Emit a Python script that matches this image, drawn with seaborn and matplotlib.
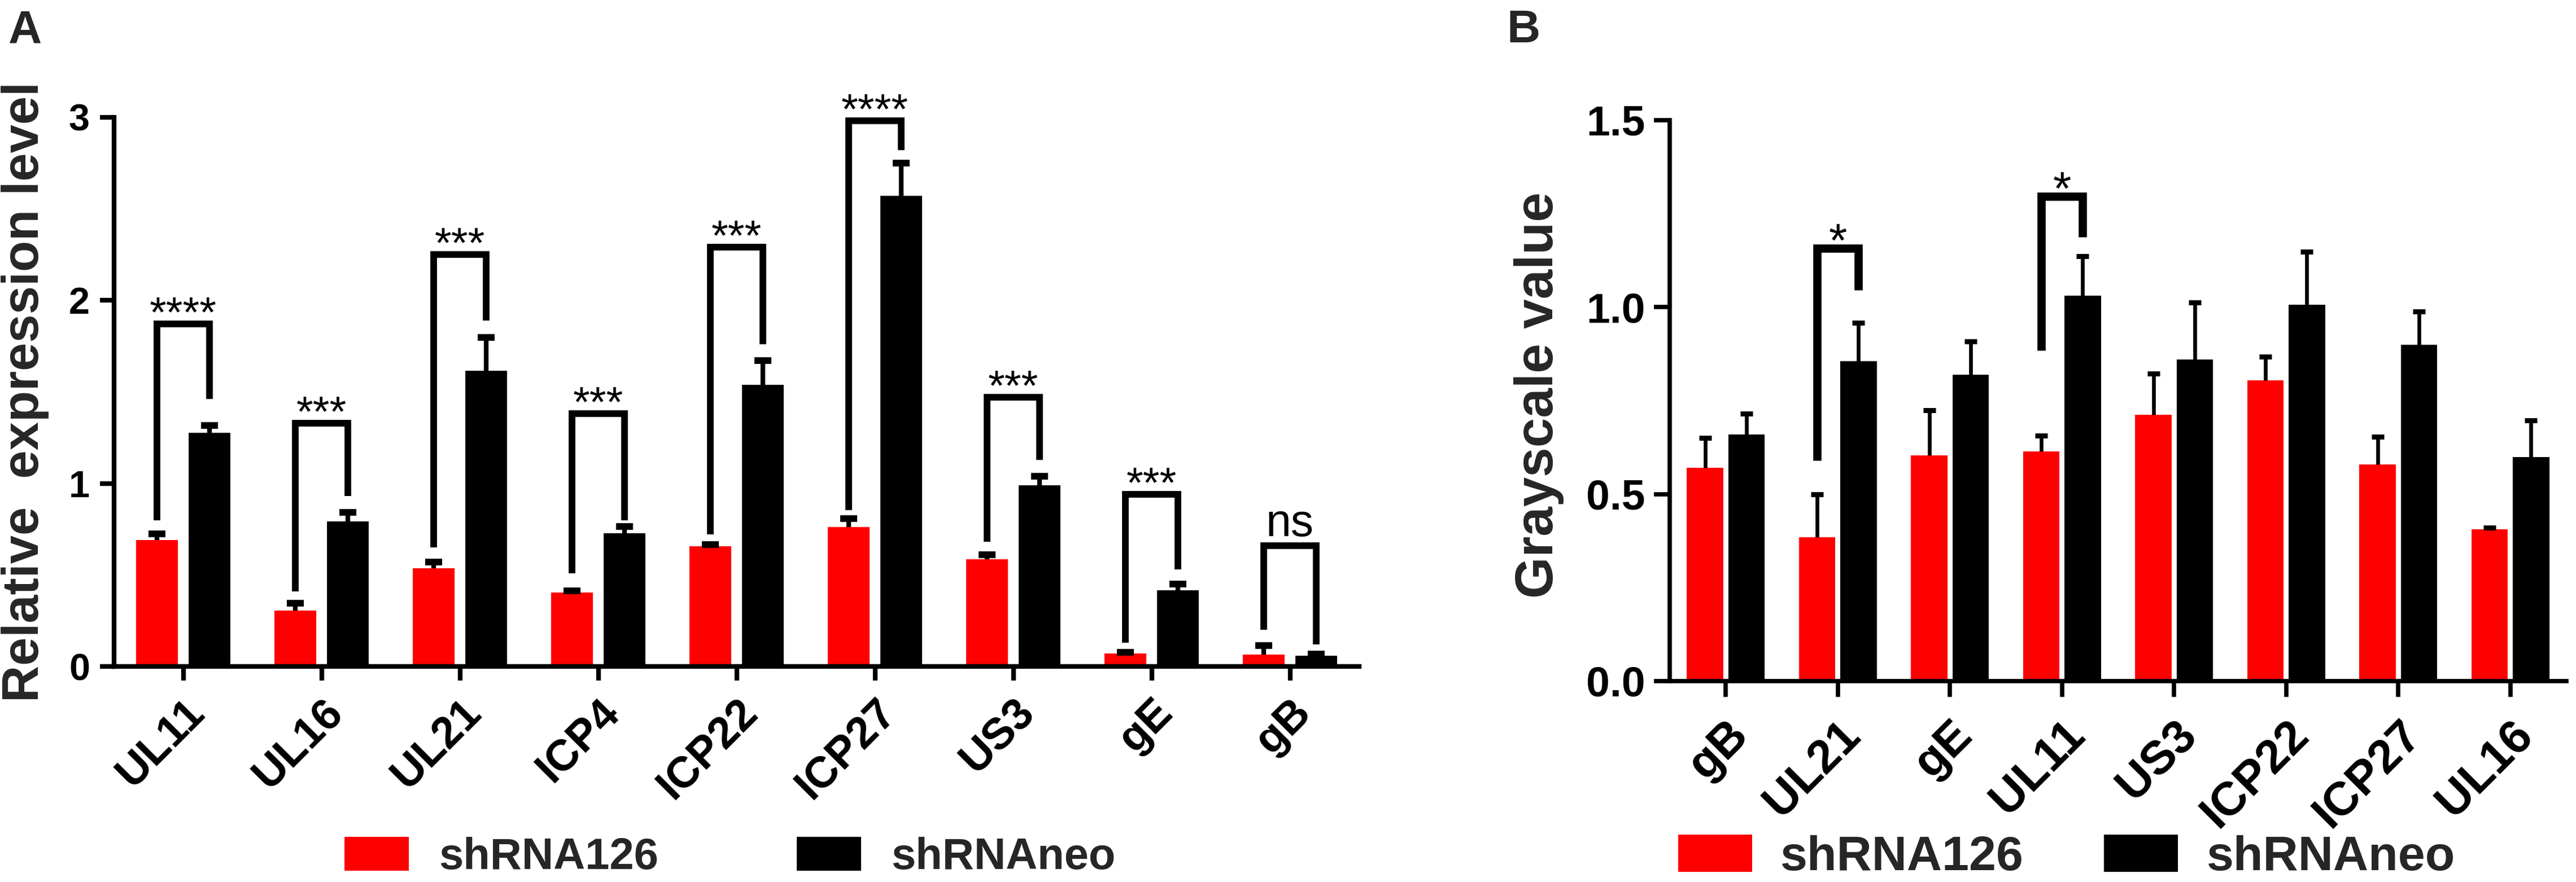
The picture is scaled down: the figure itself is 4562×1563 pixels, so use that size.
import numpy as np
import pandas as pd
import matplotlib
matplotlib.use("Agg")
import matplotlib.pyplot as plt
import seaborn as sns
from matplotlib.patches import Patch

# ---------------- data ----------------
groups = ["shRNA126", "shRNAneo"]
colors = ["#FF0000", "#000000"]

genes_a = ["UL11", "UL16", "UL21", "ICP4", "ICP22", "ICP27", "US3", "gE", "gB"]
red_a = [0.69, 0.306, 0.535, 0.405, 0.657, 0.762, 0.586, 0.07, 0.066]
red_err_a = [0.035, 0.04, 0.034, 0.008, 0.008, 0.045, 0.025, 0.006, 0.048]
black_a = [1.278, 0.791, 1.616, 0.727, 1.54, 2.57, 0.99, 0.417, 0.06]
black_err_a = [0.038, 0.05, 0.18, 0.037, 0.13, 0.18, 0.05, 0.033, 0.007]
sig_a = ["****", "***", "***", "***", "***", "****", "***", "***", "ns"]
brk_top_a = [1.87, 1.33, 2.25, 1.38, 2.29, 2.98, 1.47, 0.94, 0.66]
brk_left_a = [0.80, 0.41, 0.65, 0.51, 0.72, 0.855, 0.68, 0.13, 0.20]
brk_right_a = [1.46, 0.93, 1.89, 0.80, 1.76, 2.82, 1.13, 0.53, 0.12]
yticks_a = [0, 1, 2, 3]

genes_b = ["gB", "UL21", "gE", "UL11", "US3", "ICP22", "ICP27", "UL16"]
red_b = [0.57, 0.385, 0.603, 0.614, 0.712, 0.804, 0.58, 0.406]
red_err_b = [0.08, 0.115, 0.122, 0.042, 0.111, 0.063, 0.073, 0.004]
black_b = [0.66, 0.855, 0.819, 1.03, 0.86, 1.006, 0.90, 0.599]
black_err_b = [0.056, 0.103, 0.09, 0.106, 0.153, 0.142, 0.088, 0.098]
sig_b_genes = ["UL21", "UL11"]
sig_b = ["*", "*"]
brk_top_b = [1.158, 1.297]
brk_left_b = [0.59, 0.885]
brk_right_b = [1.046, 1.187]
yticks_b = [0.0, 0.5, 1.0, 1.5]

# ---------------- style ----------------
sns.set_theme(style="ticks")
plt.rcParams["font.family"] = ["Liberation Sans", "DejaVu Sans"]
plt.rcParams["font.weight"] = "bold"
plt.rcParams["axes.labelweight"] = "bold"
plt.rcParams["axes.edgecolor"] = "black"
plt.rcParams["xtick.color"] = "black"
plt.rcParams["ytick.color"] = "black"

W, H, DPI = 4562, 1563, 100
fig = plt.figure(figsize=(W / DPI, H / DPI), dpi=DPI)
fig.patch.set_facecolor("white")


def px_axes(l, t, r, b):
    return fig.add_axes([l / W, 1 - b / H, (r - l) / W, (b - t) / H])


axA = px_axes(202, 208, 2407, 1181)
axB = px_axes(2957, 213, 4545, 1207)


def make_df(genes, red, black):
    return pd.DataFrame({
        "gene": genes + genes,
        "group": [groups[0]] * len(genes) + [groups[1]] * len(genes),
        "value": red + black,
    })


def draw_panel(ax, genes, red, black, red_err, black_err, width, gap,
               err_lw, cap_ms, cap_mew, spine_lw, tick_len, ytick_fs, ytick_pad,
               xtick_fs, xtick_pad, yticks, ylim, ylabel, ylabel_fs, ylabel_xy):
    df = make_df(genes, red, black)
    sns.barplot(data=df, x="gene", y="value", hue="group", order=genes,
                hue_order=groups, palette=colors, saturation=1, width=width,
                gap=gap, errorbar=None, legend=False, ax=ax,
                linewidth=0, edgecolor="none")
    bars = list(ax.containers)[:2]
    centers = []
    for cont, errs in zip(bars, [red_err, black_err]):
        xs = np.array([p.get_x() + p.get_width() / 2 for p in cont])
        ys = np.array([p.get_height() for p in cont])
        tops = ys + np.array(errs)
        ax.vlines(xs, ys, tops, colors="black", linewidth=err_lw, zorder=3)
        ax.plot(xs, tops, ls="none", marker="_", markersize=cap_ms,
                markeredgewidth=cap_mew, color="black", zorder=3, clip_on=False)
        centers.append(xs)
    ax.set_ylim(*ylim)
    ax.set_yticks(yticks)
    if isinstance(yticks[1], float):
        ax.set_yticklabels([f"{v:.1f}" for v in yticks])
    ax.set_xlim(-0.5, len(genes) - 0.5)
    sns.despine(ax=ax)
    for s in ["left", "bottom"]:
        ax.spines[s].set_linewidth(spine_lw)
        ax.spines[s].set_color("black")
    ax.tick_params(axis="both", width=spine_lw, length=tick_len, direction="out")
    ax.tick_params(axis="y", labelsize=ytick_fs, pad=ytick_pad)
    ax.tick_params(axis="x", labelsize=xtick_fs, pad=xtick_pad)
    for lab in ax.get_xticklabels():
        lab.set_rotation(45)
        lab.set_ha("right")
        lab.set_va("top")
        lab.set_rotation_mode("anchor")
        lab.set_fontweight("bold")
    for lab in ax.get_yticklabels():
        lab.set_fontweight("bold")
    ax.set_xlabel("")
    ax.set_ylabel(ylabel, fontsize=ylabel_fs, fontweight="bold")
    ax.yaxis.set_label_coords(*ylabel_xy)
    ax.set_facecolor("white")
    return centers


def draw_bracket(ax, xl, xr, top, yl, yr, lw, label, fs, off):
    ax.plot([xl, xl, xr, xr], [yl, top, top, yr], color="black", lw=lw,
            solid_joinstyle="miter", solid_capstyle="butt", clip_on=False, zorder=4)
    ax.annotate(label, xy=((xl + xr) / 2, top), xytext=(0, off),
                textcoords="offset points", ha="center", va="baseline",
                fontsize=fs, fontweight="normal", color="black",
                annotation_clip=False)


# ---------------- panel A ----------------
cA = draw_panel(axA, genes_a, red_a, black_a, red_err_a, black_err_a,
                width=0.76, gap=0.2, err_lw=6, cap_ms=22, cap_mew=8.5,
                spine_lw=6, tick_len=18, ytick_fs=48, ytick_pad=13,
                xtick_fs=56, xtick_pad=14, yticks=yticks_a, ylim=(0, 3),
                ylabel="Relative  expression level", ylabel_fs=65,
                ylabel_xy=(-0.052, 0.5))
for i, s in enumerate(sig_a):
    off = 12 if s == "ns" else -3
    fs = 58 if s == "ns" else 55
    draw_bracket(axA, cA[0][i], cA[1][i], brk_top_a[i], brk_left_a[i],
                 brk_right_a[i], 8.5, s, fs, off)

# ---------------- panel B ----------------
cB = draw_panel(axB, genes_b, red_b, black_b, red_err_b, black_err_b,
                width=0.74, gap=0.12, err_lw=4.8, cap_ms=16, cap_mew=6.4,
                spine_lw=5.5, tick_len=20, ytick_fs=54, ytick_pad=11,
                xtick_fs=60, xtick_pad=20, yticks=yticks_b, ylim=(0, 1.5),
                ylabel="Grayscale value", ylabel_fs=68,
                ylabel_xy=(-0.118, 0.51))
for g, s, t, yl, yr in zip(sig_b_genes, sig_b, brk_top_b, brk_left_b, brk_right_b):
    i = genes_b.index(g)
    draw_bracket(axB, cB[0][i], cB[1][i], t, yl, yr, 10.5, s, 60, -11)

# ---------------- legends ----------------
handles = [Patch(facecolor=c, edgecolor="none", label=g) for c, g in zip(colors, groups)]
fig.legend(handles=handles, loc="center", bbox_to_anchor=(0.2834, 0.028), ncol=2,
           frameon=False, prop={"weight": "bold", "size": 56}, handlelength=1.47,
           handleheight=0.81, handletextpad=0.69, columnspacing=3.14,
           borderaxespad=0, borderpad=0)
fig.legend(handles=handles, loc="center", bbox_to_anchor=(0.8023, 0.028), ncol=2,
           frameon=False, prop={"weight": "bold", "size": 62}, handlelength=1.52,
           handleheight=0.8, handletextpad=0.59, columnspacing=1.65,
           borderaxespad=0, borderpad=0)

# ---------------- panel letters ----------------
fig.text(15 / W, 1 - 16 / H, "A", fontsize=59, fontweight="bold", ha="left", va="top")
fig.text(2668 / W, 1 - 16 / H, "B", fontsize=59, fontweight="bold", ha="left", va="top")

fig.savefig("out.png", dpi=DPI, facecolor="white")
